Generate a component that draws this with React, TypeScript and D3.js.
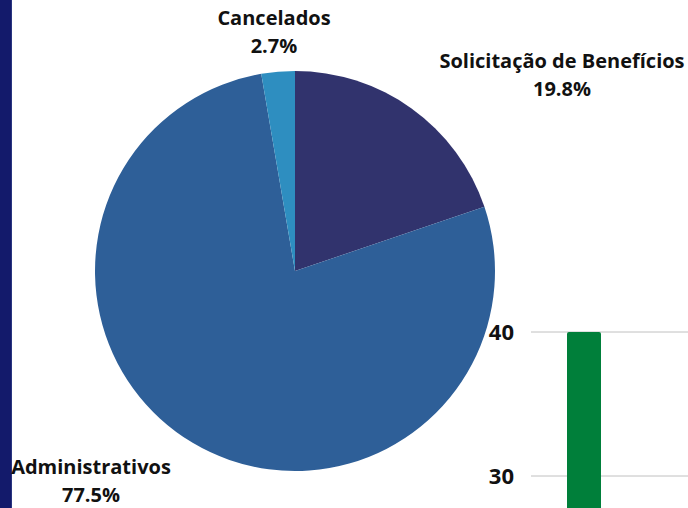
import React from "react";
import * as d3 from "d3";

const categories = ["Solicitação de Benefícios", "Administrativos", "Cancelados"];
const shares = [19.8, 77.5, 2.7];
const sliceColors = ["#31336d", "#2e5f98", "#2e8ec0"];
const labelPos: [number, number][] = [[562, 61], [91, 467], [274, 18]];

const barTicks = [30, 40];
const barValues = [40];

const W = 688;
const H = 508;

export default function App() {
  const cx = 295, cy = 271, r = 200;
  const pie = d3.pie<number>().sort(null).value((d) => d)(shares);
  const arc = d3.arc<d3.PieArcDatum<number>>().innerRadius(0).outerRadius(r);

  const y = d3.scaleLinear().domain([30, 40]).range([476, 332]);

  const font = "'Open Sans', 'Noto Sans', sans-serif";

  return (
    <svg width={W} height={H} style={{ position: "fixed", left: 0, top: 0, background: "#fff" }} fontFamily={font}>
      <rect x={0} y={0} width={11} height={H} fill="#131a6b" />
      <rect x={11} y={0} width={1} height={H} fill="#2a3580" />
      <g transform={`translate(${cx},${cy})`}>
        {pie.map((p, i) => (
          <path key={i} d={arc(p) || ""} fill={sliceColors[i]} />
        ))}
      </g>
      {categories.map((c, i) => (
        <g key={c} fontWeight={700} fontSize={20} textAnchor="middle" fill="#111">
          <text x={labelPos[i][0]} y={labelPos[i][1] + 7}>{c}</text>
          <text x={labelPos[i][0]} y={labelPos[i][1] + 35}>{shares[i].toFixed(1)}%</text>
        </g>
      ))}
      {barTicks.map((t) => (
        <g key={t}>
          <line x1={531} x2={W} y1={y(t)} y2={y(t)} stroke="#c0c0c0" strokeWidth={1} />
          <text x={514} y={y(t) + 8} textAnchor="end" fontWeight={700} fontSize={22} fill="#111">{t}</text>
        </g>
      ))}
      {barValues.map((v, i) => (
        <path
          key={i}
          d={(() => {
            const bx = 567, bw = 34, by = y(v), rr = 2;
            return `M${bx},${H + 10}V${by + rr}Q${bx},${by} ${bx + rr},${by}H${bx + bw - rr}Q${bx + bw},${by} ${bx + bw},${by + rr}V${H + 10}Z`;
          })()}
          fill="#007f3a"
        />
      ))}
    </svg>
  );
}
